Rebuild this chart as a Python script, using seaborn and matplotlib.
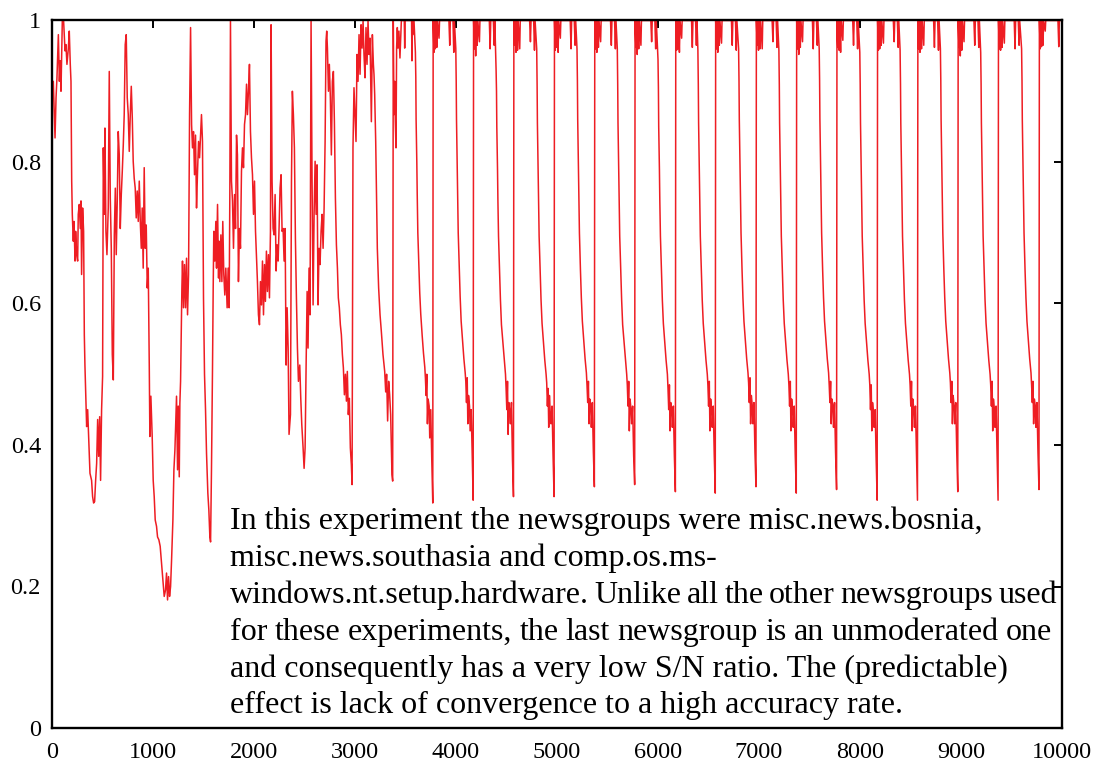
import matplotlib
matplotlib.use("Agg")
import matplotlib.pyplot as plt
import seaborn as sns
import pandas as pd

# ---------------- data ----------------
steps_early = [0, 3, 13, 30, 40, 49, 63, 73, 82, 89, 102, 115, 129, 138, 148, 162, 171, 181, 188, 195,
    201, 211, 218, 228, 234, 244, 254, 260, 270, 280, 287, 293, 303, 313, 320, 326, 333, 343, 353, 366,
    376, 392, 402, 412, 422, 432, 442, 452, 462, 472, 481, 491, 501, 508, 518, 524, 534, 544, 557, 567,
    577, 587, 597, 607, 617, 627, 636, 646, 656, 666, 676, 686, 696, 706, 715, 725, 735, 745, 755, 765,
    775, 785, 795, 804, 814, 824, 834, 844, 854, 864, 874, 884, 893, 903, 913, 923, 933, 943, 953, 963,
    969, 979, 992, 1002, 1012, 1022, 1035, 1045, 1058, 1071, 1085, 1098, 1111, 1124, 1134, 1144, 1154,
    1164, 1174, 1184, 1197, 1207, 1217, 1227, 1233, 1243, 1250, 1260, 1266, 1273, 1279, 1286, 1292,
    1302, 1312, 1322, 1332, 1342, 1352, 1362, 1372, 1382, 1391, 1401, 1411, 1421, 1431, 1441, 1451,
    1461, 1471, 1480, 1490, 1500, 1510, 1520, 1530, 1543, 1553, 1563, 1570, 1579, 1589, 1596, 1602,
    1612, 1622, 1629, 1639, 1649, 1655, 1662, 1672, 1682, 1691, 1701, 1711, 1721, 1734, 1744, 1754,
    1761, 1767, 1777, 1787, 1797, 1807, 1817, 1827, 1836, 1846, 1856, 1866, 1876, 1886, 1896, 1906,
    1916, 1926, 1935, 1945, 1955, 1965, 1975, 1985, 1995, 2005, 2015, 2024, 2034, 2044, 2054, 2064,
    2074, 2084, 2094, 2104, 2113, 2123, 2133, 2143, 2153, 2163, 2169, 2179, 2189, 2199, 2209, 2219,
    2229, 2239, 2249, 2258, 2268, 2278, 2288, 2298, 2308, 2318, 2328, 2338, 2347, 2361, 2371, 2380,
    2390, 2400, 2410, 2420, 2430, 2440, 2453, 2463, 2473, 2486, 2496, 2506, 2516, 2526, 2535, 2545,
    2555, 2565, 2575, 2585, 2595, 2605, 2615, 2624, 2634, 2644, 2654, 2664, 2674, 2684, 2694, 2704,
    2713, 2720, 2727, 2737, 2746, 2756, 2766, 2776, 2786, 2796, 2806, 2816, 2826, 2835, 2845, 2855,
    2865, 2875, 2885, 2895, 2905, 2915, 2924, 2934, 2944, 2954, 2964, 2971, 2980, 2990, 3000, 3010,
    3020, 3030, 3040, 3050, 3060, 3070, 3080, 3089, 3099, 3109, 3119, 3129, 3139, 3149, 3162, 3172,
    3182, 3188, 3195, 3205, 3211, 3221, 3234, 3248, 3261, 3277, 3294, 3304, 3313, 3323, 3333, 3343,
    3353, 3366, 3373, 3379, 3386, 3393, 3399, 3406, 3412, 3419, 3426, 3435, 3445, 3459, 3488, 3492,
    3496, 3508, 3560, 3564, 3568, 3574, 3584]
acc_early = [0.0, 0.91, 0.914, 0.834, 0.891, 0.919, 0.98, 0.914, 0.943, 0.90, 0.999, 0.999, 0.957, 0.966,
    0.938, 0.961, 0.985, 0.938, 0.914, 0.773, 0.726, 0.688, 0.716, 0.66, 0.702, 0.669, 0.66, 0.726,
    0.74, 0.706, 0.745, 0.641, 0.735, 0.702, 0.556, 0.513, 0.478, 0.426, 0.45, 0.398, 0.36, 0.35,
    0.327, 0.318, 0.32, 0.35, 0.374, 0.436, 0.384, 0.44, 0.35, 0.45, 0.497, 0.82, 0.726, 0.848, 0.702,
    0.669, 0.735, 0.928, 0.749, 0.678, 0.528, 0.492, 0.697, 0.763, 0.669, 0.745, 0.843, 0.81, 0.706,
    0.754, 0.787, 0.825, 0.867, 0.966, 0.98, 0.891, 0.867, 0.815, 0.867, 0.907, 0.862, 0.801, 0.777,
    0.763, 0.721, 0.759, 0.716, 0.773, 0.716, 0.678, 0.735, 0.65, 0.792, 0.678, 0.711, 0.622, 0.65,
    0.513, 0.412, 0.469, 0.412, 0.35, 0.327, 0.294, 0.285, 0.27, 0.266, 0.257, 0.233, 0.209, 0.186,
    0.195, 0.219, 0.181, 0.214, 0.186, 0.2, 0.238, 0.294, 0.365, 0.393, 0.44, 0.469, 0.365, 0.455,
    0.355, 0.459, 0.49, 0.556, 0.622, 0.66, 0.594, 0.655, 0.594, 0.664, 0.584, 0.641, 0.867, 0.99,
    0.853, 0.82, 0.843, 0.782, 0.838, 0.735, 0.787, 0.829, 0.806, 0.838, 0.867, 0.829, 0.608, 0.5,
    0.45, 0.388, 0.332, 0.308, 0.27, 0.263, 0.365, 0.506, 0.622, 0.702, 0.66, 0.716, 0.65, 0.74,
    0.636, 0.688, 0.631, 0.697, 0.631, 0.716, 0.641, 0.612, 0.65, 0.594, 0.65, 0.594, 0.763, 0.999,
    0.773, 0.745, 0.678, 0.754, 0.706, 0.838, 0.81, 0.631, 0.706, 0.678, 0.787, 0.82, 0.792, 0.853,
    0.867, 0.91, 0.867, 0.9, 0.938, 0.843, 0.806, 0.782, 0.726, 0.773, 0.702, 0.669, 0.631, 0.584,
    0.57, 0.631, 0.598, 0.66, 0.584, 0.655, 0.603, 0.674, 0.617, 0.669, 0.608, 0.702, 0.994, 0.773,
    0.706, 0.697, 0.754, 0.646, 0.683, 0.66, 0.711, 0.763, 0.782, 0.702, 0.706, 0.66, 0.706, 0.513,
    0.594, 0.537, 0.415, 0.443, 0.773, 0.9, 0.867, 0.82, 0.692, 0.608, 0.537, 0.49, 0.513, 0.466,
    0.429, 0.396, 0.367, 0.396, 0.513, 0.617, 0.537, 0.65, 0.584, 0.999, 0.773, 0.598, 0.726, 0.801,
    0.726, 0.796, 0.598, 0.678, 0.655, 0.702, 0.726, 0.678, 0.735, 0.829, 0.971, 0.985, 0.961, 0.9,
    0.938, 0.891, 0.81, 0.914, 0.928, 0.857, 0.749, 0.683, 0.65, 0.608, 0.594, 0.57, 0.556, 0.528,
    0.509, 0.471, 0.5, 0.462, 0.504, 0.443, 0.466, 0.396, 0.372, 0.344, 0.82, 0.905, 0.867, 0.829,
    0.952, 0.914, 0.98, 0.924, 0.994, 0.961, 0.999, 0.952, 0.919, 0.99, 0.938, 0.999, 0.952, 0.975,
    0.857, 0.98, 0.938, 0.924, 0.895, 0.829, 0.773, 0.678, 0.622, 0.584, 0.56, 0.528, 0.504, 0.475,
    0.5, 0.434, 0.49, 0.471, 0.443, 0.358, 0.349, 1.0, 0.867, 0.914, 0.857, 0.82, 0.961, 0.99, 0.961,
    0.985, 0.947, 1.0, 1.0, 0.961, 1.0, 1.0, 1.0, 0.943, 1.0, 0.98, 1.0]

steps_cycles = [
    3598, 3602, 3605, 3612, 3616, 3622, 3632, 3641, 3651, 3665, 3678, 3691, 3697, 3704, 3711, 3717, 3724, 3734, 3740, 3750, 3760, 3770,
    3774, 3782, 3787, 3795, 3801, 3810, 3816, 3832, 3837, 3930, 3938, 3944, 3970, 3978, 3984,
    3998, 4002, 4005, 4012, 4016, 4022, 4032, 4041, 4051, 4065, 4078, 4091, 4097, 4104, 4111, 4117, 4124, 4134, 4140, 4150, 4160, 4170,
    4174, 4182, 4187, 4195, 4201, 4210, 4216, 4232, 4237, 4330, 4338, 4344, 4370, 4378, 4384,
    4397, 4401, 4404, 4411, 4415, 4421, 4431, 4440, 4450, 4464, 4477, 4490, 4496, 4503, 4510, 4516, 4523, 4533, 4539, 4549, 4559, 4569,
    4573, 4581, 4586, 4594, 4600, 4609, 4615, 4631, 4636, 4729, 4737, 4743, 4769, 4777, 4783,
    4799, 4803, 4806, 4813, 4817, 4823, 4833, 4842, 4852, 4866, 4879, 4892, 4898, 4905, 4912, 4918, 4925, 4935, 4941, 4951, 4961, 4971,
    4975, 4983, 4988, 4996, 5002, 5011, 5017, 5033, 5038, 5131, 5139, 5145, 5171, 5179, 5185,
    5198, 5202, 5205, 5212, 5216, 5222, 5232, 5241, 5251, 5265, 5278, 5291, 5297, 5304, 5311, 5317, 5324, 5334, 5340, 5350, 5360, 5370,
    5374, 5382, 5387, 5395, 5401, 5410, 5416, 5432, 5437, 5530, 5538, 5544, 5570, 5578, 5584,
    5597, 5601, 5604, 5611, 5615, 5621, 5631, 5640, 5650, 5664, 5677, 5690, 5696, 5703, 5710, 5716, 5723, 5733, 5739, 5749, 5759, 5769,
    5773, 5781, 5786, 5794, 5800, 5809, 5815, 5831, 5836, 5929, 5937, 5943, 5969, 5977, 5983,
    6000, 6004, 6007, 6014, 6018, 6024, 6034, 6043, 6053, 6067, 6080, 6093, 6099, 6106, 6113, 6119, 6126, 6136, 6142, 6152, 6162, 6172,
    6176, 6184, 6189, 6197, 6203, 6212, 6218, 6234, 6239, 6332, 6340, 6346, 6372, 6380, 6386,
    6395, 6399, 6402, 6409, 6413, 6419, 6429, 6438, 6448, 6462, 6475, 6488, 6494, 6501, 6508, 6514, 6521, 6531, 6537, 6547, 6557, 6567,
    6571, 6579, 6584, 6592, 6598, 6607, 6613, 6629, 6634, 6727, 6735, 6741, 6767, 6775, 6781,
    6798, 6802, 6805, 6812, 6816, 6822, 6832, 6841, 6851, 6865, 6878, 6891, 6897, 6904, 6911, 6917, 6924, 6934, 6940, 6950, 6960, 6970,
    6974, 6982, 6987, 6995, 7001, 7010, 7016, 7032, 7037, 7130, 7138, 7144, 7170, 7178, 7184,
    7197, 7201, 7204, 7211, 7215, 7221, 7231, 7240, 7250, 7264, 7277, 7290, 7296, 7303, 7310, 7316, 7323, 7333, 7339, 7349, 7359, 7369,
    7373, 7381, 7386, 7394, 7400, 7409, 7415, 7431, 7436, 7529, 7537, 7543, 7569, 7577, 7583,
    7596, 7600, 7603, 7610, 7614, 7620, 7630, 7639, 7649, 7663, 7676, 7689, 7695, 7702, 7709, 7715, 7722, 7732, 7738, 7748, 7758, 7768,
    7772, 7780, 7785, 7793, 7799, 7808, 7814, 7830, 7835, 7928, 7936, 7942, 7968, 7976, 7982,
    7998, 8002, 8005, 8012, 8016, 8022, 8032, 8041, 8051, 8065, 8078, 8091, 8097, 8104, 8111, 8117, 8124, 8134, 8140, 8150, 8160, 8170,
    8174, 8182, 8187, 8195, 8201, 8210, 8216, 8232, 8237, 8330, 8338, 8344, 8370, 8378, 8384,
    8397, 8401, 8404, 8411, 8415, 8421, 8431, 8440, 8450, 8464, 8477, 8490, 8496, 8503, 8510, 8516, 8523, 8533, 8539, 8549, 8559, 8569,
    8573, 8581, 8586, 8594, 8600, 8609, 8615, 8631, 8636, 8729, 8737, 8743, 8769, 8777, 8783,
    8796, 8800, 8803, 8810, 8814, 8820, 8830, 8839, 8849, 8863, 8876, 8889, 8895, 8902, 8909, 8915, 8922, 8932, 8938, 8948, 8958, 8968,
    8972, 8980, 8985, 8993, 8999, 9008, 9014, 9030, 9035, 9128, 9136, 9142, 9168, 9176, 9182,
    9195, 9199, 9202, 9209, 9213, 9219, 9229, 9238, 9248, 9262, 9275, 9288, 9294, 9301, 9308, 9314, 9321, 9331, 9337, 9347, 9357, 9367,
    9371, 9379, 9384, 9392, 9398, 9407, 9413, 9429, 9434, 9527, 9535, 9541, 9567, 9575, 9581,
    9600, 9604, 9607, 9614, 9618, 9624, 9634, 9643, 9653, 9667, 9680, 9693, 9699, 9706, 9713, 9719, 9726, 9736, 9742, 9752, 9762, 9772,
    9776, 9784, 9789, 9797, 9803, 9812, 9818, 9834, 9839, 9960, 9968, 9974, 10000]
acc_cycles = [
    0.955, 0.92, 0.86, 0.80, 0.755, 0.70, 0.655, 0.615, 0.585, 0.555, 0.53, 0.51, 0.495, 0.47, 0.50, 0.43, 0.465, 0.455, 0.41, 0.45, 0.38, 0.318,
    1.0, 0.955, 1.0, 0.96, 1.0, 0.962, 1.0, 0.975, 1.0, 1.0, 0.965, 1.0, 1.0, 0.955, 1.0,
    0.96, 0.915, 0.86, 0.795, 0.75, 0.70, 0.65, 0.61, 0.575, 0.548, 0.522, 0.502, 0.49, 0.46, 0.495, 0.43, 0.47, 0.455, 0.42, 0.45, 0.39, 0.322,
    1.0, 0.96, 1.0, 0.95, 1.0, 0.965, 1.0, 0.97, 1.0, 1.0, 0.96, 1.0, 1.0, 0.965, 1.0,
    0.93, 0.90, 0.85, 0.79, 0.745, 0.695, 0.645, 0.605, 0.57, 0.545, 0.52, 0.50, 0.48, 0.45, 0.49, 0.415, 0.46, 0.445, 0.43, 0.46, 0.38, 0.327,
    1.0, 0.965, 1.0, 0.955, 1.0, 0.958, 1.0, 0.96, 1.0, 1.0, 0.97, 1.0, 1.0, 0.958, 1.0,
    0.96, 0.91, 0.855, 0.79, 0.745, 0.695, 0.645, 0.605, 0.572, 0.545, 0.52, 0.50, 0.488, 0.455, 0.48, 0.425, 0.47, 0.44, 0.43, 0.455, 0.385, 0.327,
    1.0, 0.958, 1.0, 0.962, 1.0, 0.955, 1.0, 0.975, 1.0, 1.0, 0.96, 1.0, 1.0, 0.965, 1.0,
    0.96, 0.915, 0.86, 0.795, 0.75, 0.70, 0.648, 0.608, 0.575, 0.548, 0.522, 0.502, 0.485, 0.46, 0.49, 0.43, 0.465, 0.455, 0.425, 0.46, 0.39, 0.341,
    1.0, 0.96, 1.0, 0.955, 1.0, 0.962, 1.0, 0.97, 1.0, 1.0, 0.965, 1.0, 1.0, 0.96, 1.0,
    0.96, 0.91, 0.855, 0.79, 0.745, 0.695, 0.645, 0.605, 0.57, 0.545, 0.52, 0.50, 0.485, 0.455, 0.49, 0.42, 0.465, 0.45, 0.43, 0.455, 0.385, 0.344,
    1.0, 0.962, 1.0, 0.952, 1.0, 0.96, 1.0, 0.965, 1.0, 1.0, 0.97, 1.0, 1.0, 0.96, 1.0,
    0.945, 0.905, 0.85, 0.79, 0.745, 0.695, 0.645, 0.605, 0.572, 0.545, 0.52, 0.50, 0.48, 0.45, 0.485, 0.42, 0.46, 0.45, 0.425, 0.455, 0.385, 0.334,
    1.0, 0.958, 1.0, 0.96, 1.0, 0.955, 1.0, 0.975, 1.0, 1.0, 0.962, 1.0, 1.0, 0.965, 1.0,
    0.958, 0.91, 0.855, 0.79, 0.745, 0.695, 0.645, 0.605, 0.572, 0.545, 0.52, 0.50, 0.485, 0.455, 0.49, 0.42, 0.465, 0.45, 0.425, 0.455, 0.385, 0.332,
    1.0, 0.96, 1.0, 0.955, 1.0, 0.965, 1.0, 0.968, 1.0, 1.0, 0.965, 1.0, 1.0, 0.958, 1.0,
    0.96, 0.915, 0.86, 0.795, 0.75, 0.70, 0.648, 0.608, 0.575, 0.548, 0.522, 0.502, 0.488, 0.46, 0.495, 0.43, 0.47, 0.455, 0.43, 0.46, 0.39, 0.341,
    1.0, 0.965, 1.0, 0.958, 1.0, 0.96, 1.0, 0.96, 1.0, 1.0, 0.97, 1.0, 1.0, 0.962, 1.0,
    0.958, 0.91, 0.855, 0.79, 0.745, 0.695, 0.645, 0.605, 0.572, 0.545, 0.52, 0.50, 0.485, 0.455, 0.49, 0.42, 0.465, 0.45, 0.425, 0.455, 0.385, 0.332,
    1.0, 0.96, 1.0, 0.952, 1.0, 0.962, 1.0, 0.97, 1.0, 1.0, 0.96, 1.0, 1.0, 0.965, 1.0,
    0.96, 0.915, 0.86, 0.795, 0.75, 0.70, 0.648, 0.608, 0.575, 0.548, 0.522, 0.502, 0.485, 0.46, 0.49, 0.43, 0.465, 0.455, 0.425, 0.46, 0.39, 0.337,
    1.0, 0.962, 1.0, 0.958, 1.0, 0.955, 1.0, 0.972, 1.0, 1.0, 0.965, 1.0, 1.0, 0.96, 1.0,
    0.955, 0.91, 0.855, 0.79, 0.745, 0.695, 0.645, 0.605, 0.572, 0.545, 0.52, 0.50, 0.485, 0.45, 0.485, 0.42, 0.46, 0.445, 0.425, 0.45, 0.38, 0.322,
    1.0, 0.958, 1.0, 0.96, 1.0, 0.965, 1.0, 0.968, 1.0, 1.0, 0.97, 1.0, 1.0, 0.962, 1.0,
    0.958, 0.91, 0.855, 0.79, 0.745, 0.695, 0.645, 0.605, 0.572, 0.545, 0.52, 0.50, 0.485, 0.455, 0.49, 0.42, 0.465, 0.45, 0.425, 0.455, 0.385, 0.322,
    1.0, 0.96, 1.0, 0.955, 1.0, 0.96, 1.0, 0.965, 1.0, 1.0, 0.962, 1.0, 1.0, 0.958, 1.0,
    0.96, 0.915, 0.86, 0.795, 0.75, 0.70, 0.648, 0.608, 0.575, 0.548, 0.522, 0.502, 0.488, 0.46, 0.49, 0.43, 0.47, 0.455, 0.43, 0.46, 0.39, 0.334,
    1.0, 0.962, 1.0, 0.95, 1.0, 0.958, 1.0, 0.97, 1.0, 1.0, 0.965, 1.0, 1.0, 0.962, 1.0,
    0.955, 0.91, 0.855, 0.79, 0.745, 0.695, 0.645, 0.605, 0.572, 0.545, 0.52, 0.50, 0.485, 0.455, 0.49, 0.42, 0.465, 0.45, 0.425, 0.455, 0.385, 0.322,
    1.0, 0.96, 1.0, 0.958, 1.0, 0.962, 1.0, 0.968, 1.0, 1.0, 0.96, 1.0, 1.0, 0.965, 1.0,
    0.96, 0.915, 0.86, 0.795, 0.75, 0.70, 0.648, 0.608, 0.575, 0.548, 0.522, 0.502, 0.485, 0.46, 0.49, 0.43, 0.465, 0.455, 0.425, 0.46, 0.39, 0.337,
    1.0, 0.96, 1.0, 0.963, 1.0, 0.965, 1.0, 0.985, 1.0, 1.0, 0.963, 1.0, 1.0]

x_ticks = [0, 1000, 2000, 3000, 4000, 5000, 6000, 7000, 8000, 9000, 10000]
y_ticks = [0, 0.2, 0.4, 0.6, 0.8, 1.0]
y_tick_labels = ["0", "0.2", "0.4", "0.6", "0.8", "1"]

note_lines = [
    "In this experiment the newsgroups were misc.news.bosnia,",
    "misc.news.southasia and comp.os.ms-",
    "windows.nt.setup.hardware. Unlike all the other newsgroups used",
    "for these experiments, the last newsgroup is an unmoderated one",
    "and consequently has a very low S/N ratio. The (predictable)",
    "effect is lack of convergence to a high accuracy rate.",
]
# right edge (pixels) for lines set justified in the reference; None = natural spacing
note_right = [None, None, 1057, 1052, None, None]

# ---------------- plotting ----------------
sns.set_style("white")
plt.rcParams["font.family"] = ["Liberation Serif", "DejaVu Serif"]

df = pd.DataFrame({"step": steps_early + steps_cycles, "accuracy": acc_early + acc_cycles})

W, H = 1102, 765
fig = plt.figure(figsize=(W / 100, H / 100), dpi=100)
ax = fig.add_axes([52 / W, 1 - 728 / H, 1010 / W, (728 - 20.5) / H])

sns.lineplot(data=df, x="step", y="accuracy", ax=ax, color="#ee1d23", lw=1.1,
             estimator=None, sort=False)

ax.set_xlim(0, 10000)
ax.set_ylim(0, 1)
ax.set_xticks(x_ticks)
ax.set_xticklabels([str(t) for t in x_ticks])
ax.set_yticks(y_ticks)
ax.set_yticklabels(y_tick_labels)
ax.set_xlabel("")
ax.set_ylabel("")
for s in ax.spines.values():
    s.set_visible(True)
    s.set_color("black")
    s.set_linewidth(1.7)
ax.tick_params(direction="in", length=5.5, width=1.4, top=True, right=True,
               labelsize=17.5, colors="black")
ax.tick_params(axis="y", pad=8)
ax.tick_params(axis="x", pad=10)

renderer = fig.canvas.get_renderer()
x0 = 230
fs = 23
for i, (line, right) in enumerate(zip(note_lines, note_right)):
    yb = 1 - (529 + i * 36.9) / H
    if right is None:
        fig.text(x0 / W, yb, line, fontsize=fs, va="baseline", ha="left", color="black")
        continue
    words = line.split(" ")
    widths = []
    for w in words:
        t = fig.text(0, 0, w, fontsize=fs)
        widths.append(t.get_window_extent(renderer).width)
        t.remove()
    gap = (right - x0 - sum(widths)) / (len(words) - 1)
    xp = x0
    for w, wd in zip(words, widths):
        fig.text(xp / W, yb, w, fontsize=fs, va="baseline", ha="left", color="black")
        xp += wd + gap

fig.savefig("out.png", dpi=100)
